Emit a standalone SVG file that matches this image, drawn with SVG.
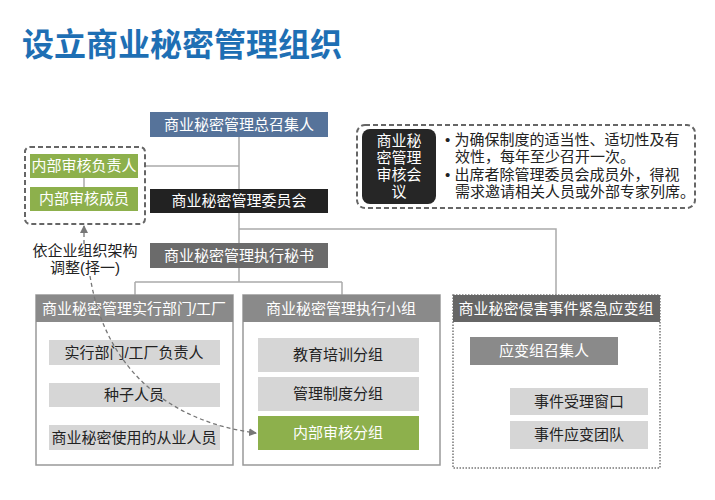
<svg xmlns="http://www.w3.org/2000/svg" width="715" height="500" viewBox="0 0 715 500">
<defs>
<marker id="ah" markerWidth="8" markerHeight="8" refX="7" refY="4" orient="auto" markerUnits="userSpaceOnUse"><path d="M0,0 L8,4 L0,8 z" fill="#777"/></marker>
<style>
text{font-family:"Liberation Sans","Noto Sans CJK SC",sans-serif;text-anchor:middle}
.w{fill:#fff;font-size:15px}
.k{fill:#222;font-size:15px}
.ln{stroke:#aaa;stroke-width:1.5;fill:none}
.item{fill:#d6d6d6}
.grn{fill:#8db04c}
.hdr{fill:#8a8a8a}
.dl{stroke:#777;stroke-width:1.3;stroke-dasharray:4,3;fill:none}
</style>
</defs>
<rect width="715" height="500" fill="#fff"/>
<text x="22" y="56" style="text-anchor:start;font-size:32px;font-weight:bold;fill:#1e6fb4">设立商业秘密管理组织</text>
<g id="connectors">
<path class="ln" d="M239,137 V282 M145,166 H239 M239,229 H556 V295 M135,282 H342 M135,282 V295 M342,282 V295 M489,365 V435 M489,401 H510 M489,435 H510 M84,178 V187"/>
</g>
<g id="convener"><rect x="150" y="112" width="178" height="25" fill="#56739a"/><text class="w" x="239" y="130">商业秘密管理总召集人</text></g>
<g id="committee"><rect x="150" y="189" width="178" height="24" fill="#222"/><text class="w" x="239" y="206">商业秘密管理委员会</text></g>
<g id="secretary"><rect x="150" y="243" width="178" height="25" fill="#6b6b6b"/><text class="w" x="239" y="261">商业秘密管理执行秘书</text></g>
<g id="audit"><rect x="25" y="147" width="120" height="77" rx="5" fill="none" stroke="#666" stroke-width="2" stroke-dasharray="5,3"/>
<rect class="grn" x="30" y="154" width="108" height="24"/><text class="w" x="84" y="171">内部审核负责人</text>
<rect class="grn" x="30" y="187" width="108" height="24"/><text class="w" x="84" y="204">内部审核成员</text></g>
<g id="note"><text class="k" x="85" y="256">依企业组织架构</text><text class="k" x="85" y="273">调整(择一)</text></g>
<g id="meeting"><rect x="357" y="125" width="338" height="83" rx="8" fill="none" stroke="#666" stroke-width="2" stroke-dasharray="5,3"/>
<rect x="362" y="129" width="74" height="75" rx="8" fill="#262626"/>
<text class="w" x="399" y="146">商业秘</text><text class="w" x="399" y="163">密管理</text><text class="w" x="399" y="180">审核会</text><text class="w" x="399" y="197">议</text>
<g style="font-size:15px;fill:#222"><text x="445" y="145" style="text-anchor:start">• 为确保制度的适当性、适切性及有</text><text x="455" y="162" style="text-anchor:start">效性，每年至少召开一次。</text><text x="445" y="180" style="text-anchor:start">• 出席者除管理委员会成员外，得视</text><text x="455" y="197" style="text-anchor:start">需求邀请相关人员或外部专家列席。</text></g></g>
<g id="dept"><rect x="36" y="295" width="197" height="170" fill="#fff" stroke="#999" stroke-width="1.5"/><rect class="hdr" x="36" y="295" width="197" height="27"/><text class="w" x="134" y="314">商业秘密管理实行部门/工厂</text>
<rect class="item" x="49" y="340" width="171" height="25"/><text class="k" x="134" y="358">实行部门/工厂负责人</text>
<rect class="item" x="49" y="383" width="171" height="24"/><text class="k" x="134" y="400">种子人员</text>
<rect class="item" x="49" y="425" width="171" height="25"/><text class="k" x="134" y="443">商业秘密使用的从业人员</text></g>
<g id="exec"><rect x="243" y="295" width="197" height="170" fill="#fff" stroke="#999" stroke-width="1.5"/><rect class="hdr" x="243" y="295" width="197" height="27"/><text class="w" x="341" y="314">商业秘密管理执行小组</text>
<rect class="item" x="258" y="338" width="161" height="34"/><text class="k" x="338" y="360">教育培训分组</text>
<rect class="item" x="258" y="377" width="161" height="34"/><text class="k" x="338" y="399">管理制度分组</text>
<rect class="grn" x="258" y="416" width="161" height="34"/><text class="w" x="338" y="438">内部审核分组</text></g>
<g id="emergency"><rect x="453" y="295" width="207" height="173" fill="#fff" stroke="#777" stroke-width="1.5" stroke-dasharray="1.5,1.5"/><rect x="453" y="295" width="207" height="27" fill="#666"/><text class="w" x="556" y="314">商业秘密侵害事件紧急应变组</text>
<rect class="hdr" x="470" y="337" width="148" height="28"/><text class="w" x="544" y="356">应变组召集人</text>
<rect class="item" x="510" y="388" width="138" height="27"/><text class="k" x="579" y="407">事件受理窗口</text>
<rect class="item" x="510" y="421" width="138" height="28"/><text class="k" x="579" y="440">事件应变团队</text></g>
<g id="dashed-links">
<path class="dl" d="M84,244 V226" marker-end="url(#ah)"/>
<path class="dl" d="M90,276 C105,370 170,422 256,433" marker-end="url(#ah)"/>
</g>
</svg>
